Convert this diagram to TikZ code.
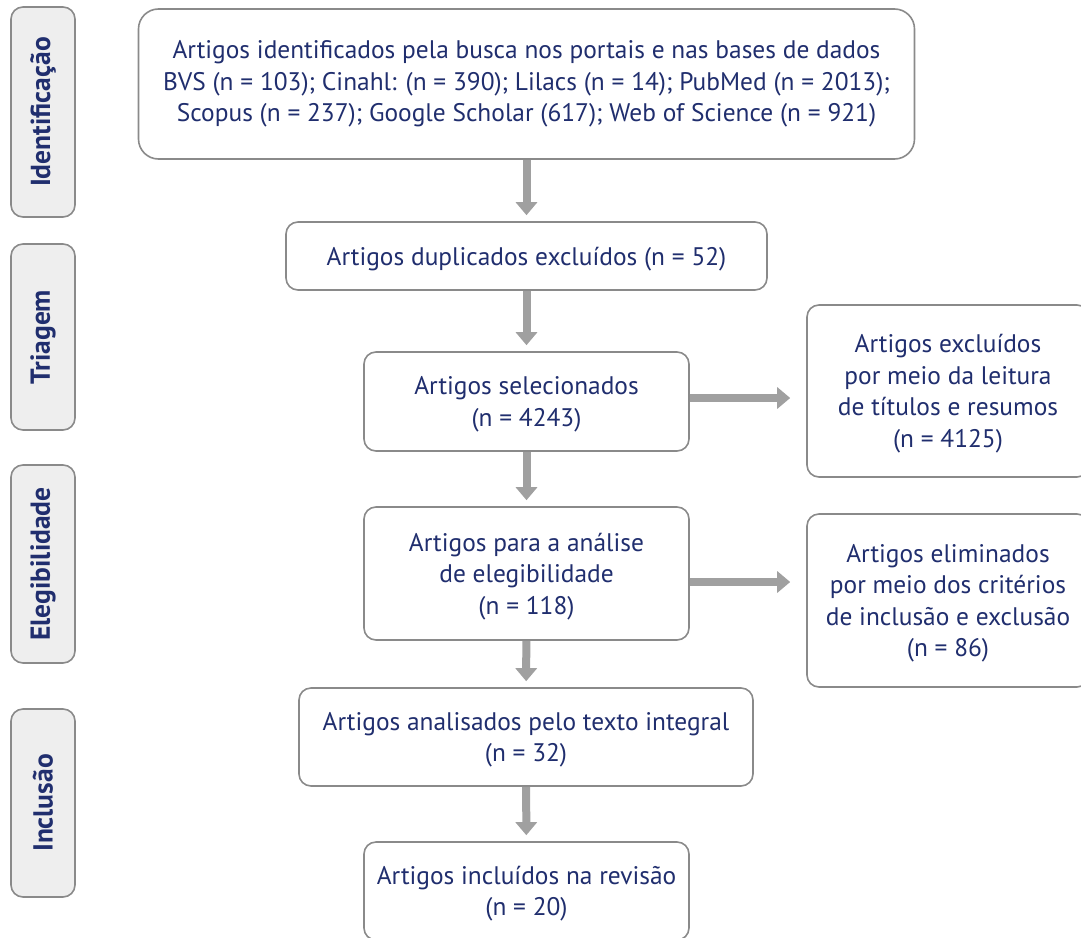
\documentclass[tikz,border=0pt]{standalone}
\usepackage{fontspec}
\setmainfont{PT Sans}
\newfontfamily\phasefont{PT Sans Bold}
\usetikzlibrary{arrows.meta,positioning}
\definecolor{navy}{RGB}{32,46,110}
\definecolor{boxline}{RGB}{138,138,138}
\definecolor{arrowgray}{RGB}{160,160,160}
\definecolor{sidefill}{RGB}{238,238,238}

\begin{document}
\begin{tikzpicture}[x=1pt,y=-1pt,
  flowbox/.style={draw=boxline,line width=1.6pt,rounded corners=12pt,fill=white,align=center,inner sep=0pt,
    text=navy,font=\fontsize{25.4}{31.5}\selectfont,text depth=-3pt},
  phasebox/.style={draw=boxline,line width=1.6pt,rounded corners=12pt,fill=sidefill,rotate=90,inner sep=0pt,
    minimum height=64pt,text=navy,font=\phasefont\fontsize{27.5}{30}\selectfont},
  flowarrow/.style={draw=arrowgray,line width=8pt,-{Triangle[width=21pt,length=13pt]},shorten >=6pt}]
\useasboundingbox (0,0) rectangle (1081,937);
\node[phasebox,minimum width=210pt] (ident) at (43,112) {Identificação};
\node[phasebox,minimum width=186pt] (triag) at (43,337) {Triagem};
\node[phasebox,minimum width=198pt] (elegp) at (43,564) {Elegibilidade};
\node[phasebox,minimum width=188pt] (inclp) at (43,803) {Inclusão};
\node[flowbox,text depth=6pt,rounded corners=20pt,minimum width=776pt,minimum height=150pt] (busca) at (526.5,84)
  {Artigos identificados pela busca nos portais e nas bases de dados\\
   BVS (n = 103); Cinahl: (n = 390); Lilacs (n = 14); PubMed (n = 2013);\\
   Scopus (n = 237); Google Scholar (617); Web of Science (n = 921)};
\node[flowbox,minimum width=481pt,minimum height=68pt] (dupl) at (526.5,256) {Artigos duplicados excluídos (n = 52)};
\node[flowbox,minimum width=325pt,minimum height=99pt] (selec) at (526.5,401.5) {Artigos selecionados\\(n = 4243)};
\node[flowbox,text depth=-9pt,minimum width=282pt,minimum height=172pt] (excl) at (948,391)
  {Artigos excluídos\\por meio da leitura\\de títulos e resumos\\(n = 4125)};
\node[flowbox,minimum width=325pt,minimum height=133pt] (anal) at (526.5,573.5)
  {Artigos para a análise\\de elegibilidade\\(n = 118)};
\node[flowbox,minimum width=282pt,minimum height=173pt] (elim) at (948,600.5)
  {Artigos eliminados\\por meio dos critérios\\de inclusão e exclusão\\(n = 86)};
\node[flowbox,minimum width=454pt,minimum height=98pt] (integ) at (526,737)
  {Artigos analisados pelo texto integral\\(n = 32)};
\node[flowbox,minimum width=325pt,minimum height=98pt] (inclu) at (526.5,891)
  {Artigos incluídos na revisão\\(n = 20)};
\draw[flowarrow] (busca) -- (dupl);
\draw[flowarrow] (dupl) -- (selec);
\draw[flowarrow] (selec) -- (anal);
\draw[flowarrow] (anal) -- (integ);
\draw[flowarrow] (integ) -- (inclu);
\draw[flowarrow,shorten >=16pt] ([yshift=3.5pt]selec.east) -- ([yshift=3.5pt]selec.east -| excl.west);
\draw[flowarrow,shorten >=16pt] ([yshift=-8.5pt]anal.east) -- ([yshift=-8.5pt]anal.east -| elim.west);
\end{tikzpicture}
\end{document}
